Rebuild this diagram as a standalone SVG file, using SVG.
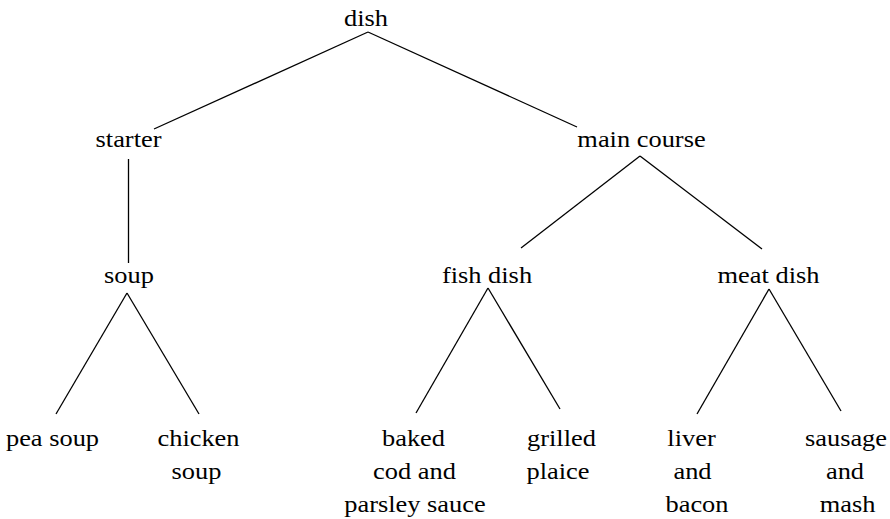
<svg xmlns="http://www.w3.org/2000/svg" width="890" height="519" viewBox="0 0 890 519">
  <style>
    .lbl { font-size: 24px; fill: #000; text-anchor: middle; }
    .edge { stroke: #000; stroke-width: 1.3; fill: none; stroke-linecap: butt; }
  </style>
  <rect width="890" height="519" fill="#fff"/>

  <!-- connectors -->
  <g id="edges" class="edge">
    <line x1="368" y1="32" x2="154" y2="129"/>
    <line x1="368" y1="32" x2="577" y2="127"/>
    <line x1="128.5" y1="159" x2="128.5" y2="263"/>
    <line x1="640" y1="156" x2="521" y2="248"/>
    <line x1="640" y1="156" x2="762" y2="249"/>
    <line x1="127" y1="293" x2="56" y2="414"/>
    <line x1="127" y1="293" x2="199" y2="414"/>
    <line x1="488" y1="288" x2="416" y2="413"/>
    <line x1="488" y1="288" x2="560" y2="409"/>
    <line x1="769" y1="289" x2="697" y2="414"/>
    <line x1="769" y1="289" x2="841" y2="411"/>
  </g>

  <!-- nodes: each label is slightly widened horizontally -->
  <g id="labels" font-family="'Liberation Serif', Tinos, 'Nimbus Roman', 'Times New Roman', Times, serif">
  <g id="dish"><text class="lbl" transform="translate(366,26) scale(1.1,1)">dish</text></g>
  <g id="starter"><text class="lbl" transform="translate(128.5,147) scale(1.1,1)">starter</text></g>
  <g id="main-course"><text class="lbl" transform="translate(641.5,147) scale(1.1,1)">main course</text></g>
  <g id="soup"><text class="lbl" transform="translate(129,283) scale(1.1,1)">soup</text></g>
  <g id="fish-dish"><text class="lbl" transform="translate(487,283) scale(1.1,1)">fish dish</text></g>
  <g id="meat-dish"><text class="lbl" transform="translate(768.5,283) scale(1.1,1)">meat dish</text></g>

  <g id="pea-soup"><text class="lbl" transform="translate(52.5,446) scale(1.1,1)">pea soup</text></g>
  <g id="chicken-soup">
    <text class="lbl" transform="translate(198.5,446) scale(1.1,1)">chicken</text>
    <text class="lbl" transform="translate(196.5,479) scale(1.1,1)">soup</text>
  </g>
  <g id="baked-cod">
    <text class="lbl" transform="translate(413.5,446) scale(1.1,1)">baked</text>
    <text class="lbl" transform="translate(414.5,479) scale(1.1,1)">cod and</text>
    <text class="lbl" transform="translate(415,512) scale(1.1,1)">parsley sauce</text>
  </g>
  <g id="grilled-plaice">
    <text class="lbl" transform="translate(561.5,446) scale(1.1,1)">grilled</text>
    <text class="lbl" transform="translate(558,479) scale(1.1,1)">plaice</text>
  </g>
  <g id="liver-bacon">
    <text class="lbl" transform="translate(691.5,446) scale(1.1,1)">liver</text>
    <text class="lbl" transform="translate(692.5,479) scale(1.1,1)">and</text>
    <text class="lbl" transform="translate(697,512) scale(1.1,1)">bacon</text>
  </g>
  <g id="sausage-mash">
    <text class="lbl" transform="translate(846,446) scale(1.1,1)">sausage</text>
    <text class="lbl" transform="translate(845,479) scale(1.1,1)">and</text>
    <text class="lbl" transform="translate(847.5,512) scale(1.1,1)">mash</text>
  </g>
  </g>
</svg>
